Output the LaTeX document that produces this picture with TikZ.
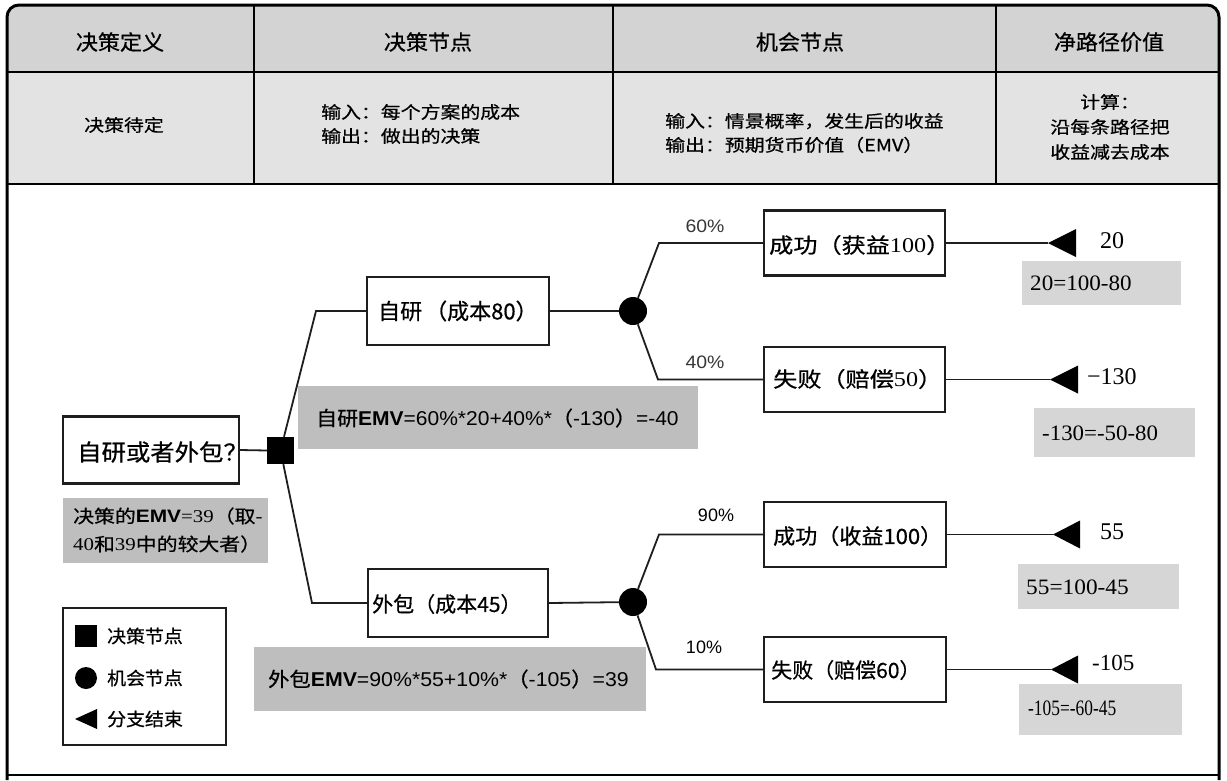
\documentclass[tikz,border=0pt]{standalone}
\usepackage{fontspec}
\usepackage{graphicx}
\setmainfont{Noto Sans CJK SC}[FakeBold=0.6]
\newfontfamily\ser{Liberation Serif}
\newfontfamily\lsans{Liberation Sans}
\newcommand\fsz[1]{\fontsize{#1}{#1}\selectfont}
\newcommand\hs[2]{\scalebox{#1}[1]{#2}}
\definecolor{hdrA}{RGB}{211,211,211}
\definecolor{hdrB}{RGB}{227,227,227}
\definecolor{emvgray}{RGB}{190,190,190}
\definecolor{calcgray}{RGB}{214,214,214}
\definecolor{ink}{RGB}{30,30,30}
\definecolor{pct}{RGB}{55,55,55}
\begin{document}
\begin{tikzpicture}[x=1pt,y=-1pt,
  tbl/.style={line width=2pt,black},
  box/.style={draw=ink,line width=2.2pt,fill=white,inner sep=0pt},
  ln/.style={draw=ink,line width=1.8pt},
  tx/.style={inner sep=0pt,anchor=west,text=black},
  hdr/.style={inner sep=0pt,font=\fsz{21}},
  rowtx/.style={inner sep=0pt,font={\fontsize{17}{24}\selectfont}},
  emvbox/.style={fill=emvgray,inner sep=0pt},
  calcbox/.style={fill=calcgray,inner sep=0pt},
  pcttx/.style={inner sep=0pt,text=pct,font={\lsans\fsz{18}}},
  knot/.style={fill=black,inner sep=0pt}
]
\useasboundingbox (0,0) rectangle (1227,780);
\fill[white] (0,0) rectangle (1227,780);
% header fills
\fill[hdrA,rounded corners=12pt] (7,5) rectangle (1219,120);
\fill[hdrB] (7,72) rectangle (1219,184);
% table lines
\draw[tbl] (7,72) -- (1219,72);
\draw[tbl] (7,184) -- (1219,184);
\draw[tbl] (254,5) -- (254,184);
\draw[tbl] (613,5) -- (613,184);
\draw[tbl] (996,5) -- (996,184);
\draw[tbl] (7,775) -- (1219,775);
\draw[line width=3pt,black,rounded corners=12pt] (7,780) -- (7,5) -- (1219,5) -- (1219,780);
% header texts
\node[hdr] (h1) at (120,42) {\hs{1.05}{决策定义}};
\node[hdr] (h2) at (428,42) {\hs{1.05}{决策节点}};
\node[hdr] (h3) at (800,42) {\hs{1.05}{机会节点}};
\node[hdr] (h4) at (1109,42) {\hs{1.05}{净路径价值}};
\node[rowtx] (r1) at (124,125) {\hs{1.17}{决策待定}};
\node[rowtx,anchor=west,align=left] (r2) at (321,124) {\hs{1.17}{输入：每个方案的成本}\\\hs{1.17}{输出：做出的决策}};
\node[rowtx,anchor=west,align=left] (r3) at (665,133) {\hs{1.17}{输入：情景概率，发生后的收益}\\\hs{1.17}{输出：预期货币价值（EMV）}};
\node[rowtx,align=center,font={\fontsize{17}{25}\selectfont}] (r4) at (1110,127) {\hs{1.17}{计算：}\\\hs{1.17}{沿每条路径把}\\\hs{1.17}{收益减去成本}};

% gray annotation boxes
\node[emvbox,minimum width=400pt,minimum height=63pt] (ezy) at (498,417.5) {};
\node[emvbox,minimum width=392pt,minimum height=64pt] (ewb) at (450,679) {};
\node[emvbox,minimum width=205pt,minimum height=65pt] (edec) at (165.5,530.5) {};
\node[calcbox,minimum width=159pt,minimum height=44pt] (k1) at (1101.5,283) {};
\node[calcbox,minimum width=161pt,minimum height=49pt] (k2) at (1114.5,432.5) {};
\node[calcbox,minimum width=161pt,minimum height=45pt] (k3) at (1098.5,586.5) {};
\node[calcbox,minimum width=163pt,minimum height=51pt] (k4) at (1100.5,709.5) {};

% bend coordinates
\coordinate (bu) at (316,311);
\coordinate (bl) at (312,603);
\coordinate (c1u) at (659,243);
\coordinate (c1l) at (658,379.5);
\coordinate (c2u) at (659,534.5);
\coordinate (c2l) at (656,669.5);
\coordinate (t1) at (1048,243);
\coordinate (t2) at (1050,379.5);
\coordinate (t3) at (1053,534.5);
\coordinate (t4) at (1051,669.5);

% boxes
\node[box,minimum width=176pt,minimum height=67pt] (q) at (151,450) {};
\node[box,minimum width=182pt,minimum height=68pt] (zy) at (458,311) {};
\node[box,minimum width=180pt,minimum height=68pt] (wb) at (458,603) {};
\node[box,minimum width=181pt,minimum height=65pt] (s1) at (854.5,243) {};
\node[box,minimum width=181pt,minimum height=65pt] (f1) at (854.5,379.5) {};
\node[box,minimum width=182pt,minimum height=65pt] (s2) at (855,534.5) {};
\node[box,minimum width=182pt,minimum height=65pt] (f2) at (855,669.5) {};
\node[knot,minimum size=27pt] (dec) at (280.5,450.5) {};
\node[knot,circle,minimum size=28pt] (c1) at (633,311) {};
\node[knot,circle,minimum size=28pt] (c2) at (633,602) {};

% connectors
\draw[ln] (q.east) -- (dec.west);
\draw[ln] (dec) -- (bu) -- (zy.west);
\draw[ln] (dec) -- (bl) -- (wb.west);
\draw[ln] (zy.east) -- (c1);
\draw[ln] (wb.east) -- (c2);
\draw[ln] (c1) -- (c1u) -- (s1.west);
\draw[ln] (c1) -- (c1l) -- (f1.west);
\draw[ln] (c2) -- (c2u) -- (s2.west);
\draw[ln] (c2) -- (c2l) -- (f2.west);
\draw[ln] (s1.east) -- (t1);
\draw[ln] (f1.east) -- (t2);
\draw[ln] (s2.east) -- (t3);
\draw[ln] (f2.east) -- (t4);
% end triangles
\fill[black] (t1) -- ++(28,-14) -- ++(0,28) -- cycle;
\fill[black] (t2) -- ++(28,-14) -- ++(0,28) -- cycle;
\fill[black] (t3) -- ++(27,-14) -- ++(0,28) -- cycle;
\fill[black] (t4) -- ++(27,-14) -- ++(0,28) -- cycle;

% box texts
\node[tx] (qt) at (77,452) {\fsz{23}\hs{1.06}{自研或者外包？}};
\node[tx] (zyt) at (378,311) {\fsz{22}自研\hspace{3pt}（成本80）};
\node[tx] (wbt) at (372,604) {\fsz{21}外包（成本45）};
\node[tx] (s1t) at (769,245) {\fsz{21}\hs{1.15}{成功（获益{\ser 100}）}};
\node[tx] (f1t) at (773,379) {\fsz{21}\hs{1.15}{失败（赔偿{\ser 50}）}};
\node[tx] (s2t) at (773,536) {\fsz{21}\hs{1.05}{成功（收益100）}};
\node[tx] (f2t) at (771,670) {\fsz{21}失败（赔偿60）};

% probabilities
\node[pcttx] (p1) at (705,226) {\hs{1.08}{60\%}};
\node[pcttx] (p2) at (705,362) {\hs{1.08}{40\%}};
\node[pcttx,text=black] (p3) at (716,515) {90\%};
\node[pcttx,text=black] (p4) at (704,647) {10\%};

% end values
\node[tx] (v1) at (1100,241) {\ser\fsz{24}20};
\node[tx] (v2) at (1087,377) {\ser\fsz{24}−130};
\node[tx] (v3) at (1100,532) {\ser\fsz{24}55};
\node[tx] (v4) at (1092,663) {\ser\fsz{23}-105};

% calc texts
\node[tx] (k1t) at (1030,283) {\ser\fsz{22}\hs{1.05}{20=100-80}};
\node[tx] (k2t) at (1042,433) {\ser\fsz{22}\hs{1.04}{-130=-50-80}};
\node[tx] (k3t) at (1026,587) {\ser\fsz{22}\hs{1.06}{55=100-45}};
\node[tx] (k4t) at (1028,708) {\ser\fsz{22}\hs{0.79}{-105=-60-45}};

% EMV texts
\node[tx] (ezyt) at (316,418) {\fsz{20}\hs{1.05}{自研{\lsans\bfseries EMV}{\lsans =60\%*20+40\%*}（{\lsans -130}）{\lsans =-40}}};
\node[tx] (ewbt) at (268,679) {\fsz{20}\hs{1.065}{外包{\lsans\bfseries EMV}{\lsans =90\%*55+10\%*}（{\lsans -105}）{\lsans =39}}};
\node[tx,align=left,font={\fontsize{18}{28}\selectfont}] (edect) at (73,530) {\hs{1.16}{决策的{\lsans\bfseries EMV}{\ser =39}（取{\ser -}}\\\hs{1.16}{{\ser 40}和{\ser 39}中的较大者）}};

% legend
\node[box,line width=2pt,minimum width=163pt,minimum height=137pt] (lg) at (144.5,676.5) {};
\node[knot,minimum size=22pt] (lsq) at (86,636) {};
\node[knot,circle,minimum size=22pt] (lci) at (86,678) {};
\coordinate (ltr) at (75,719);
\fill[black] (ltr) -- ++(22,-10) -- ++(0,20) -- cycle;
\node[tx] (lt1) at (107,636) {\fsz{18}\hs{1.05}{决策节点}};
\node[tx] (lt2) at (107,678) {\fsz{18}\hs{1.05}{机会节点}};
\node[tx] (lt3) at (107,719) {\fsz{18}\hs{1.05}{分支结束}};
\end{tikzpicture}
\end{document}
